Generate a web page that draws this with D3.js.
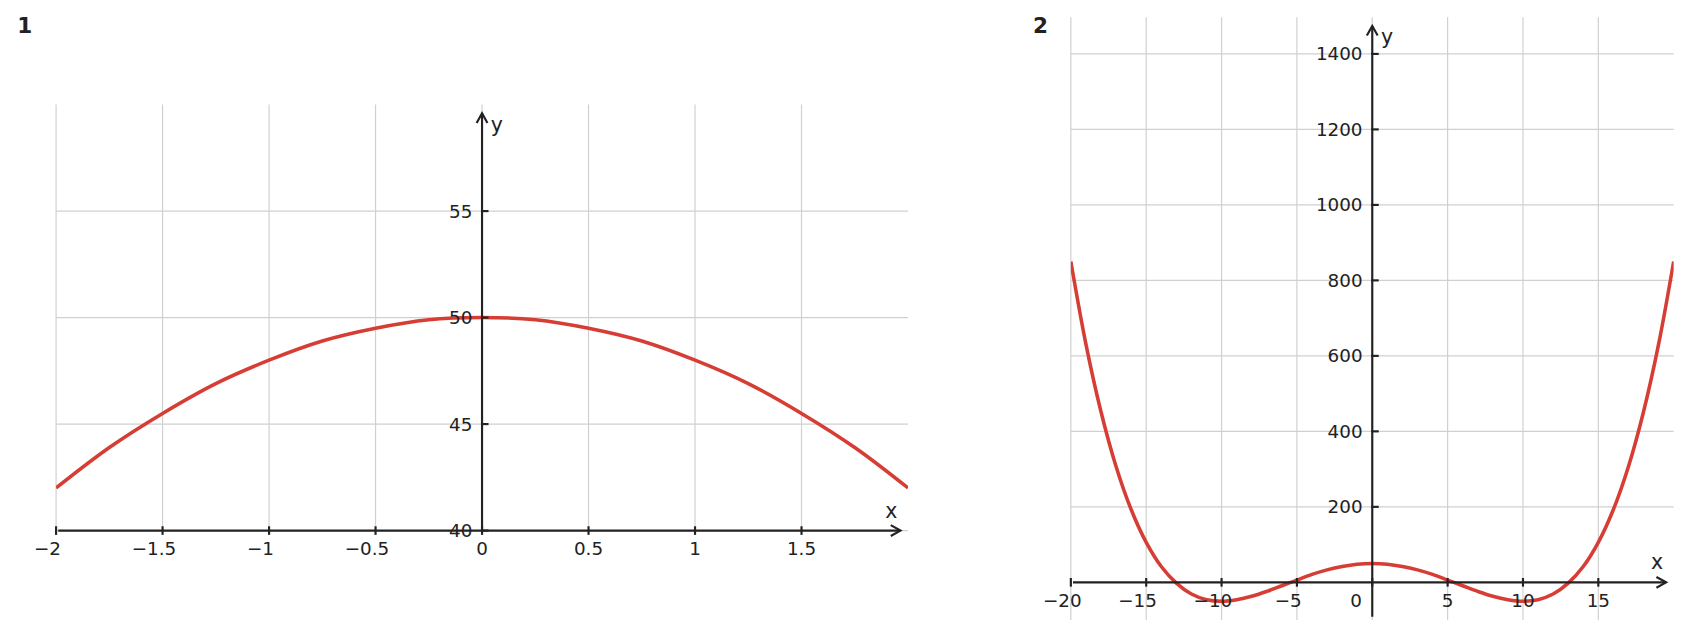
<!DOCTYPE html>
<html><head><meta charset="utf-8">
<script src="https://cdn.jsdelivr.net/npm/d3@7"></script>
<style>body{margin:0;background:#fff}text{font-family:"DejaVu Sans",sans-serif;fill:#222}</style>
</head><body>
<svg id="c" width="1691" height="638"></svg>
<script>
// Panel 1 data
const x1 = [-2,-1.75,-1.5,-1.25,-1,-0.75,-0.5,-0.25,0,0.25,0.5,0.75,1,1.25,1.5,1.75,2];
const y1 = [42,43.9,45.5,46.9,48,48.9,49.5,49.9,50,49.9,49.5,48.9,48,46.9,45.5,43.9,42];
const xt1 = [-2,-1.5,-1,-0.5,0,0.5,1,1.5];
const yt1 = [40,45,50,55];
// Panel 2 data
const x2 = [-20,-19,-18,-17,-16,-15,-14,-13,-12,-11,-10,-9,-8,-7,-6,-5,-4,-3,-2,-1,0,1,2,3,4,5,6,7,8,9,10,11,12,13,14,15,16,17,18,19,20];
const y2h = [50,48,42,33,21,6,-9,-24,-37,-46,-50,-46,-31,-2,42,106,193,307,452,631,850];
const y2 = y2h.slice().reverse().concat(y2h.slice(1));
const xt2 = [-20,-15,-10,-5,0,5,10,15];
const yt2 = [200,400,600,800,1000,1200,1400];

const root = d3.select("#c").append("g").attr("transform","scale(1.0784)");
const svg = root;
const fmt = v => String(v).replace("-", "\u2212");
const red = "#d63d35";

function panel(o){
  const g = svg.append("g");
  const x = d3.scaleLinear().domain(o.xd).range([o.l,o.r]);
  const y = d3.scaleLinear().domain(o.yd).range([o.b,o.yTopPx]);
  const x0 = x(0), yA = y(o.yAxisAt);
  g.selectAll(".vg").data(o.xt).join("line").attr("x1",d=>x(d)).attr("x2",d=>x(d))
    .attr("y1",o.t).attr("y2",o.gb).attr("stroke","#d0d0d0").attr("stroke-width",1.1);
  g.selectAll(".hg").data(o.yt).join("line").attr("y1",d=>y(d)).attr("y2",d=>y(d))
    .attr("x1",o.l).attr("x2",o.r).attr("stroke","#d0d0d0").attr("stroke-width",1.1);
  const clip = "clip"+o.id;
  d3.select("#c").append("clipPath").attr("id",clip).append("rect").attr("x",o.l).attr("y",o.t-5).attr("width",o.r-o.l).attr("height",o.gb-o.t+10);
  g.append("path").datum(o.xs.map((v,i)=>[v,o.ys[i]]))
    .attr("d",d3.line().x(d=>x(d[0])).y(d=>y(d[1])).curve(d3.curveCatmullRom))
    .attr("fill","none").attr("stroke",red).attr("stroke-width",3.3).attr("clip-path",`url(#${clip})`);
  g.append("line").attr("x1",o.l+2).attr("x2",o.r-7).attr("y1",yA).attr("y2",yA).attr("stroke","#222").attr("stroke-width",2);
  g.append("path").attr("d",`M${o.r-16},${yA-5}L${o.r-7},${yA}L${o.r-16},${yA+5}`).attr("fill","none").attr("stroke","#222").attr("stroke-width",2);
  g.append("line").attr("x1",x0).attr("x2",x0).attr("y1",o.yb).attr("y2",o.t+8).attr("stroke","#222").attr("stroke-width",2);
  g.append("path").attr("d",`M${x0-5},${o.t+17}L${x0},${o.t+8}L${x0+5},${o.t+17}`).attr("fill","none").attr("stroke","#222").attr("stroke-width",2);
  g.selectAll(".xtk").data(o.xt).join("line").attr("x1",d=>x(d)).attr("x2",d=>x(d)).attr("y1",yA-4).attr("y2",yA+4).attr("stroke","#222").attr("stroke-width",2);
  g.selectAll(".ytk").data(o.yt).join("line").attr("y1",d=>y(d)).attr("y2",d=>y(d)).attr("x1",x0-1).attr("x2",x0+6).attr("stroke","#222").attr("stroke-width",2);
  g.selectAll(".xl").data(o.xt).join("text").attr("y",yA+23)
    .attr("text-anchor","middle").attr("font-size",17).text(d=>fmt(d))
    .attr("x",d=>d===0?x(d)-o.zeroShift:x(d)-(d<0?8:0));
  g.selectAll(".yl").data(o.yt).join("text").attr("x",x0-9).attr("y",d=>y(d)+6)
    .attr("text-anchor","end").attr("font-size",17).text(d=>fmt(d));
  g.append("text").attr("x",o.r-21).attr("y",yA-12).attr("font-size",19).text("x");
  g.append("text").attr("x",x0+8).attr("y",o.t+25).attr("font-size",19).text("y");
  svg.append("text").attr("x",o.lx).attr("y",31).attr("font-size",20).attr("font-weight","bold").text(o.id);
}
panel({id:"1",xd:[-2,2],yd:[40,60],l:52,r:842,t:97,yTopPx:97,b:492,gb:492,yb:492,yAxisAt:40,
  xs:x1,ys:y1,xt:xt1,yt:yt1,zeroShift:0,lx:16});
panel({id:"2",xd:[-20,20],yd:[0,1400],l:993,r:1552,t:16,yTopPx:50,b:540,gb:575,yb:572,yAxisAt:0,
  xs:x2,ys:y2,xt:xt2,yt:yt2,zeroShift:15,lx:958});
</script>
</body></html>
